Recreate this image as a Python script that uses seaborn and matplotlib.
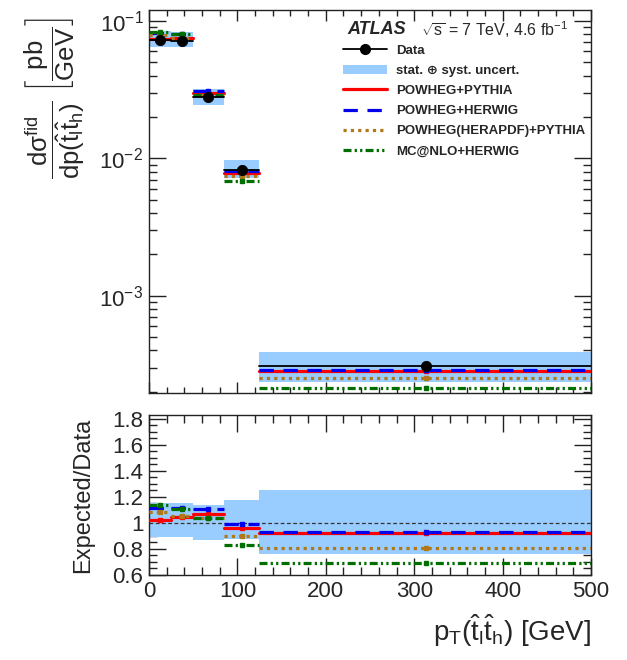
import numpy as np
import pandas as pd
import matplotlib
matplotlib.use("Agg")
import matplotlib.pyplot as plt
import seaborn as sns
from matplotlib.lines import Line2D
from matplotlib.patches import Patch
from matplotlib.ticker import MultipleLocator, LogLocator, NullFormatter, FixedLocator

# ---------------- data ----------------
bin_edges = [0, 25, 50, 85, 125, 500]
data_x = [12, 37, 67, 105, 313]
data_y = [0.073, 0.072, 0.028, 0.0082, 3.1e-4]
unc_lo = [0.89, 0.89, 0.87, 0.88, 0.76]
unc_hi = [1.15, 1.15, 1.14, 1.18, 1.25]
ratio_powheg_pythia = [1.02, 1.045, 1.07, 0.96, 0.92]
ratio_powheg_herwig = [1.115, 1.115, 1.11, 0.99, 0.93]
ratio_herapdf = [1.085, 1.05, 1.04, 0.90, 0.81]
ratio_mcnlo = [1.14, 1.11, 1.04, 0.83, 0.69]
model_names = ["POWHEG+PYTHIA", "POWHEG+HERWIG", "POWHEG(HERAPDF)+PYTHIA", "MC@NLO+HERWIG"]
x_ticks = [0, 100, 200, 300, 400, 500]
ratio_ticks = [0.6, 0.8, 1.0, 1.2, 1.4, 1.6, 1.8]
ratio_ticklabels = ["0.6", "0.8", "1", "1.2", "1.4", "1.6", "1.8"]

# ---------------- style ----------------
sns.set_theme(style="ticks")
plt.rcParams["font.family"] = ["Liberation Sans", "DejaVu Sans"]
plt.rcParams["mathtext.fontset"] = "custom"
plt.rcParams["mathtext.rm"] = "Liberation Sans"
plt.rcParams["mathtext.it"] = "Liberation Sans"
plt.rcParams["mathtext.bf"] = "Liberation Sans:bold"
plt.rcParams["axes.linewidth"] = 1.0

band_color = "#99ccff"
styles = {
    "POWHEG+PYTHIA": dict(color="#ff0000", linestyle="-"),
    "POWHEG+HERWIG": dict(color="#0000ee", linestyle=(0, (4.5, 3.0))),
    "POWHEG(HERAPDF)+PYTHIA": dict(color="#b07818", linestyle=(0, (1.0, 1.3))),
    "MC@NLO+HERWIG": dict(color="#006f00", linestyle=(0, (2.5, 1.0, 0.7, 1.0, 0.7, 1.0))),
}
ratios = dict(zip(model_names, [ratio_powheg_pythia, ratio_powheg_herwig, ratio_herapdf, ratio_mcnlo]))

fig = plt.figure(figsize=(6.27, 6.60), dpi=100)
ax1 = fig.add_axes([0.2376, 0.4045, 0.7050, 0.5803])
ax2 = fig.add_axes([0.2376, 0.1288, 0.7050, 0.2424])

nb = len(data_y)
lo_e = bin_edges[:-1]
hi_e = bin_edges[1:]

def segments(values):
    rows = []
    for i in range(nb):
        rows.append(dict(x=lo_e[i], y=values[i], unit=i))
        rows.append(dict(x=hi_e[i], y=values[i], unit=i))
    return pd.DataFrame(rows)

# ---------- top panel ----------
for i in range(nb):
    ax1.fill_between([lo_e[i], hi_e[i]], data_y[i] * unc_lo[i], data_y[i] * unc_hi[i],
                     color=band_color, lw=0, zorder=1)
for m in model_names:
    pred = [r * d for r, d in zip(ratios[m], data_y)]
    df = segments(pred)
    sns.lineplot(data=df, x="x", y="y", units="unit", estimator=None, sort=False,
                 ax=ax1, legend=False, lw=2.3, zorder=3, **styles[m])
    ax1.errorbar(data_x, pred, yerr=[p * 0.01 for p in pred], fmt="s", ms=2.5,
                 color=styles[m]["color"], lw=1.2, zorder=3)
ddf = segments(data_y)
sns.lineplot(data=ddf, x="x", y="y", units="unit", estimator=None, sort=False,
             ax=ax1, legend=False, color="black", lw=1.3, zorder=4)
sns.scatterplot(x=data_x, y=data_y, ax=ax1, color="black", s=55, marker="o",
                edgecolor="black", zorder=5, legend=False)

ax1.set_yscale("log")
ax1.set_xlim(0, 500)
ax1.set_ylim(1.96e-4, 0.12)
ax1.set_xlabel("")
ax1.set_ylabel("")
ax1.xaxis.set_major_locator(FixedLocator(x_ticks))
ax1.xaxis.set_minor_locator(MultipleLocator(20))
ax1.tick_params(axis="x", labelbottom=False)
ax1.yaxis.set_major_locator(LogLocator(base=10, numticks=10))
ax1.yaxis.set_minor_locator(LogLocator(base=10, subs=np.arange(2, 10), numticks=10))
ax1.yaxis.set_minor_formatter(NullFormatter())

# legend
handles = [
    Line2D([], [], color="black", lw=1.3, marker="o", ms=7),
    Patch(facecolor=band_color, edgecolor="none"),
]
for m in model_names:
    handles.append(Line2D([], [], lw=2.3, **styles[m]))
labels = ["Data", "stat. \u2295 syst. uncert."] + model_names
leg = ax1.legend(handles, labels, loc="upper left", bbox_to_anchor=(0.439, 0.910),
                 frameon=False, borderpad=0, borderaxespad=0, handlelength=3.3,
                 handletextpad=0.75, labelspacing=0.6, prop=dict(size=9.5, weight="bold"))
ax1.text(0.448, 0.948, "ATLAS", transform=ax1.transAxes, fontsize=13,
         fontweight="bold", fontstyle="italic", va="center", ha="left")
ax1.text(0.615, 0.948, r"$\sqrt{s}$ = 7 TeV, 4.6 fb$^{-1}$", transform=ax1.transAxes,
         fontsize=11.5, va="center", ha="left")

# ---------- ratio panel ----------
for i in range(nb):
    ax2.fill_between([lo_e[i], hi_e[i]], unc_lo[i], unc_hi[i], color=band_color, lw=0, zorder=1)
ax2.axhline(1.0, color="#333333", lw=0.9, ls=(0, (3, 2)), zorder=2)
for m in model_names:
    df = segments(ratios[m])
    sns.lineplot(data=df, x="x", y="y", units="unit", estimator=None, sort=False,
                 ax=ax2, legend=False, lw=2.3, zorder=3, **styles[m])
    ax2.errorbar(data_x, ratios[m], yerr=0.012, fmt="s", ms=2.5,
                 color=styles[m]["color"], lw=1.2, zorder=3)
ax2.set_xlim(0, 500)
ax2.set_ylim(0.6, 1.83)
ax2.xaxis.set_major_locator(FixedLocator(x_ticks))
ax2.xaxis.set_minor_locator(MultipleLocator(20))
ax2.set_yticks(ratio_ticks)
ax2.set_yticklabels(ratio_ticklabels)
ax2.yaxis.set_minor_locator(MultipleLocator(0.05))
ax2.set_xlabel(r"$\mathrm{p_T(\hat{t}_l\hat{t}_h)}$ [GeV]", fontsize=20, loc="right", labelpad=8)
ax2.set_ylabel("")

for ax in (ax1, ax2):
    ax.tick_params(which="both", direction="in", top=True, right=True, labelsize=16,
                   width=1.0, pad=4, color="#222222")
    ax.tick_params(which="major", length=12)
    ax.tick_params(which="minor", length=6)
    for s in ax.spines.values():
        s.set_color("#222222")
ax1.tick_params(axis="x", which="major", length=8)
ax1.tick_params(axis="x", which="minor", length=4)

fig.text(55 / 627, 1 - 98 / 660,
         r"$\dfrac{\mathrm{d\sigma^{fid}}}{\mathrm{dp(\hat{t}_l\hat{t}_h)}}\ \left[\dfrac{\mathrm{pb}}{\mathrm{GeV}}\right]$",
         rotation=90, ha="center", va="center", fontsize=18.5)
fig.text(83 / 627, 1 - 495 / 660, "Expected/Data", rotation=90, ha="center", va="center",
         fontsize=17)

fig.savefig("out.png", dpi=100, facecolor="white")
